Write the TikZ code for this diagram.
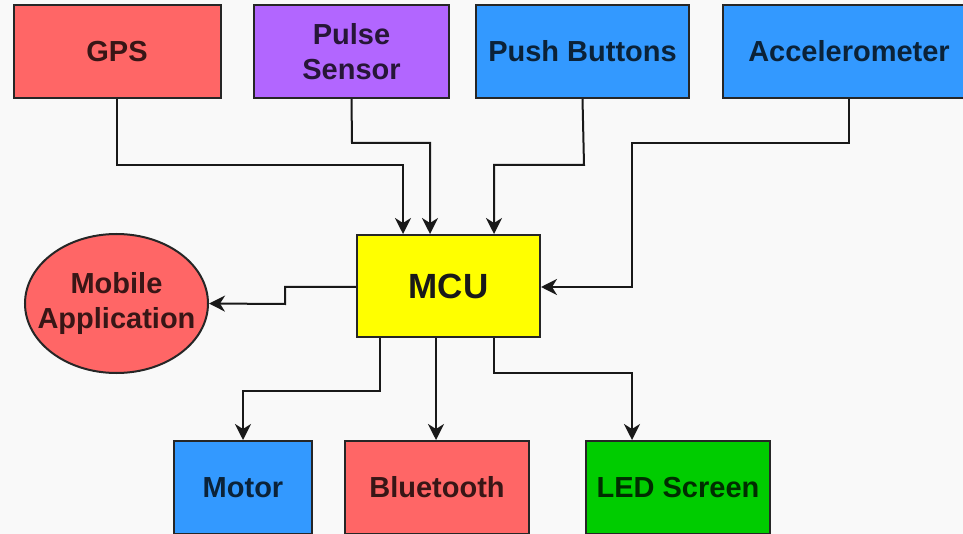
\documentclass[tikz,border=0pt]{standalone}
\usepackage{fontspec}
\setmainfont{Liberation Sans}
\usetikzlibrary{arrows.meta,shapes.geometric}
\definecolor{bgc}{HTML}{F9F9F9}
\definecolor{redc}{HTML}{FF6666}
\definecolor{purc}{HTML}{B266FF}
\definecolor{bluc}{HTML}{3399FF}
\definecolor{yelc}{HTML}{FFFF00}
\definecolor{grnc}{HTML}{00CC00}
\tikzset{
  blk/.style={draw=black!85, line width=2pt, rectangle, inner sep=0pt, align=center,
    font=\fontsize{29}{35}\selectfont\bfseries},
  ell/.style={draw=black!85, line width=2pt, ellipse, inner sep=0pt, align=center,
    font=\fontsize{29}{35}\selectfont\bfseries},
  conn/.style={draw=black!90, line width=2pt, -{Stealth[length=16pt,width=16pt,inset=5pt]}},
}
\begin{document}
\begin{tikzpicture}[x=1pt,y=-1pt]
\fill[bgc] (0,0) rectangle (963,534);
\useasboundingbox (0,0) rectangle (963,534);
\clip (0,0) rectangle (963,534);
% top row
\node[blk, fill=redc, text=redc!22!black, minimum width=207, minimum height=93] (gps) at (117,51.5) {GPS};
\node[blk, fill=purc, text=purc!22!black, minimum width=195, minimum height=93] (pulse) at (351.5,51.5) {Pulse\\Sensor};
\node[blk, fill=bluc, text=bluc!22!black, minimum width=213, minimum height=93] (push) at (582.5,51.5) {Push Buttons};
\node[blk, fill=bluc, text=bluc!22!black, minimum width=252, minimum height=93] (acc) at (849,51.5) {Accelerometer};
% middle
\node[blk, fill=yelc, text=black!90, minimum width=183, minimum height=102, font=\fontsize{35}{40}\selectfont\bfseries] (mcu) at (448.5,286) {MCU};
\node[ell, fill=redc, text=redc!22!black, minimum width=183, minimum height=139] (mob) at (116.5,303.5) {\makebox[0pt]{Mobile}\\\makebox[0pt]{Application}};
% bottom
\node[blk, fill=bluc, text=bluc!22!black, minimum width=138, minimum height=93] (motor) at (243,487.5) {Motor};
\node[blk, fill=redc, text=redc!22!black, minimum width=184, minimum height=93] (bt) at (437,487.5) {Bluetooth};
\node[blk, fill=grnc, text=grnc!22!black, minimum width=184, minimum height=93] (led) at (678,487.5) {LED Screen};
% connectors in
\draw[conn] (gps.south) -- (117,165) -- (403,165) -- (403,0 |- mcu.north);
\draw[conn] (pulse.south) -- (352,143) -- (430,143) -- (430,0 |- mcu.north);
\draw[conn] (push.south) -- (584,165) -- (494,165) -- (494,0 |- mcu.north);
\draw[conn] (acc.south) -- (849,143) -- (632,143) -- (632,287) -- (mcu.east |- 0,287);
% connectors out
\draw[conn] (mcu.west |- 0,287) -- (285,287) -- (285,304) -- (mob.east);
\draw[conn] (380,0 |- mcu.south) -- (380,391) -- (243,391) -- (motor.north);
\draw[conn] (436,0 |- mcu.south) -- (436,0 |- bt.north);
\draw[conn] (494,0 |- mcu.south) -- (494,373) -- (632,373) -- (632,0 |- led.north);
\end{tikzpicture}
\end{document}
